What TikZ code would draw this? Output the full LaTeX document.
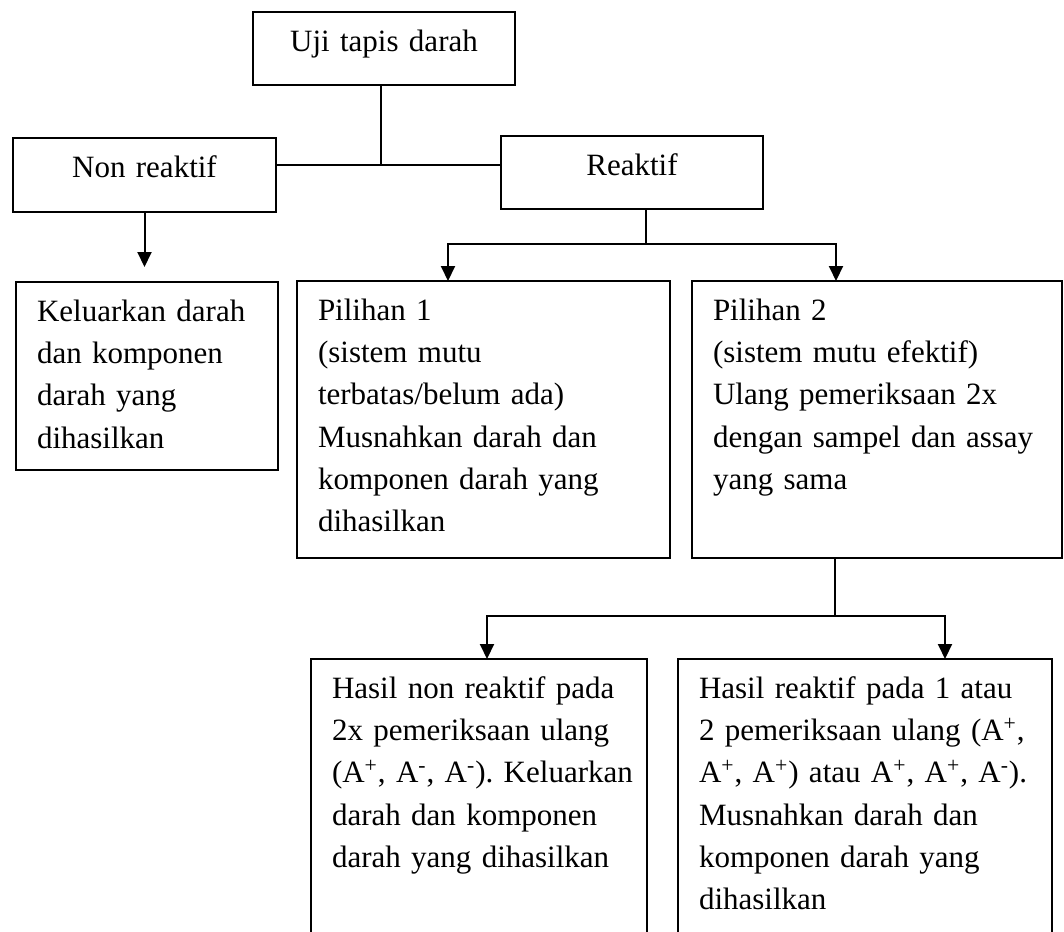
\documentclass[tikz,border=0pt]{standalone}
\usepackage{fontspec}
\setmainfont{Liberation Serif}
\usetikzlibrary{arrows.meta}
\frenchspacing

\begin{document}
\begin{tikzpicture}[x=0.5pt,y=-0.5pt,>={Triangle[length=7.5pt,width=7pt]},line width=1pt,
  box/.style 2 args={draw,anchor=north west,outer sep=0pt,inner sep=0pt,
    text width=#1,text height=19.75pt,text depth=#2,font=\fontsize{15.5pt}{21.1pt}\selectfont},
  tbox/.style 2 args={box={#1}{#2},align=left,
    execute at begin node={\leftskip=10.5pt\rightskip=2pt plus 1fil}}]
  \useasboundingbox (0,0) rectangle (1064,931);
  \clip (0,0) rectangle (1064,931);
  \node[box={131pt}{16.75pt},align=center] (uji) at (253,12) {Uji tapis darah};
  \node[box={131.5pt}{17.25pt},align=center] (non) at (13,138) {Non reaktif};
  \node[box={131pt}{16.75pt},align=center] (rk) at (501,136) {Reaktif};
  \node[tbox={131pt}{74.25pt}] (kel) at (16,282) {Keluarkan darah\\ dan komponen\\ darah yang\\ dihasilkan};
  \node[tbox={186.5pt}{118.75pt}] (p1) at (297,281) {Pilihan 1\\ (sistem mutu\\ terbatas/belum ada)\\ Musnahkan darah dan\\ komponen darah yang\\ dihasilkan};
  \node[tbox={185pt}{118.75pt}] (p2) at (692,281) {Pilihan 2\\ (sistem mutu efektif)\\ Ulang pemeriksaan 2x\\ dengan sampel dan assay\\ yang sama};
  \node[tbox={168pt}{180pt}] (h1) at (311,659) {Hasil non reaktif pada\\ 2x pemeriksaan ulang\\ (A\textsuperscript{+}, A\textsuperscript{-}, A\textsuperscript{-}). Keluarkan\\ darah dan komponen\\ darah yang dihasilkan};
  \node[tbox={187pt}{180pt}] (h2) at (678,659) {Hasil reaktif pada 1 atau\\ 2 pemeriksaan ulang (A\textsuperscript{+},\\ A\textsuperscript{+}, A\textsuperscript{+}) atau A\textsuperscript{+}, A\textsuperscript{+}, A\textsuperscript{-}).\\ Musnahkan darah dan\\ komponen darah yang\\ dihasilkan};
  \coordinate (jn) at ([shift={(-1.5pt,-40pt)}]uji.south);
  \draw ([xshift=-1.5pt]uji.south) -- (jn);
  \draw (non.east |- jn) -- (rk.west |- jn);
  \draw[->] (non.south) -- ++(0pt,-27.5pt);
  \coordinate (rj) at ([shift={(7pt,-17.5pt)}]rk.south);
  \draw ([xshift=7pt]rk.south) -- (rj);
  \draw[->] (rj) -| ([xshift=-17.75pt]p1.north);
  \draw[->] (rj) -| ([xshift=-20.5pt]p2.north);
  \coordinate (pj) at ([shift={(-21pt,-29pt)}]p2.south);
  \draw ([xshift=-21pt]p2.south) -- (pj);
  \draw[->] (pj) -| ([xshift=4pt]h1.north);
  \draw[->] (pj) -| ([xshift=40pt]h2.north);
\end{tikzpicture}
\end{document}
